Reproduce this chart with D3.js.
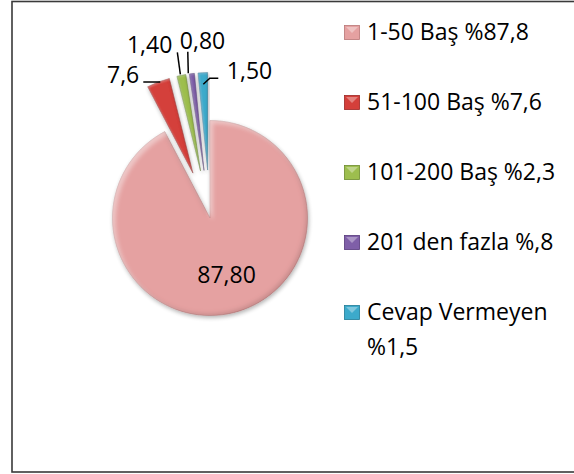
<!DOCTYPE html>
<html>
<head>
<meta charset="utf-8">
<script src="https://cdn.jsdelivr.net/npm/d3@7"></script>
<style>
  html, body { margin: 0; padding: 0; background: #fff; }
  svg { display: block; }
  text { font-family: "Open Sans", "Noto Sans", sans-serif; fill: #000; }
</style>
</head>
<body>
<svg id="chart" width="574" height="474"></svg>
<script>
// ---- data ----
const categories = ["1-50 Baş %87,8", "51-100 Baş %7,6", "101-200 Baş %2,3", "201 den fazla %,8", "Cevap Vermeyen %1,5"];
const values = [87.8, 3.6, 1.4, 0.8, 1.5];          // slice sizes as drawn
const dataLabels = ["87,80", "7,6", "1,40", "0,80", "1,50"];
const colors = ["#E5A1A1", "#D43F3A", "#9DBE4E", "#7F5FA8", "#3CAACB"];
const darkColors = ["#B97676", "#9C2623", "#6C8A2C", "#56397A", "#1F7A96"];

// ---- layout ----
const svg = d3.select("#chart");
const cx = 210, cy = 218, R = 97.5, explode = 48;
const fontSize = 23;

// frame
svg.append("rect").attr("x", 12).attr("y", 1.5).attr("width", 600).attr("height", 470.5)
  .attr("fill", "#fff").attr("stroke", "#3a3a3a").attr("stroke-width", 1.6);

const defs = svg.append("defs");
function makeBevel(id, off, blur, darkOp, lightOp) {
  const f = defs.append("filter").attr("id", id).attr("x", "-20%").attr("y", "-20%").attr("width", "140%").attr("height", "140%");
  f.append("feOffset").attr("in", "SourceAlpha").attr("dx", -off).attr("dy", -off).attr("result", "o1");
  f.append("feGaussianBlur").attr("in", "o1").attr("stdDeviation", blur).attr("result", "b1");
  f.append("feComposite").attr("in", "SourceAlpha").attr("in2", "b1").attr("operator", "out").attr("result", "rim1");
  f.append("feFlood").attr("flood-color", "#000").attr("flood-opacity", darkOp).attr("result", "dark");
  f.append("feComposite").attr("in", "dark").attr("in2", "rim1").attr("operator", "in").attr("result", "darkRim");
  f.append("feOffset").attr("in", "SourceAlpha").attr("dx", off).attr("dy", off).attr("result", "o2");
  f.append("feGaussianBlur").attr("in", "o2").attr("stdDeviation", blur).attr("result", "b2");
  f.append("feComposite").attr("in", "SourceAlpha").attr("in2", "b2").attr("operator", "out").attr("result", "rim2");
  f.append("feFlood").attr("flood-color", "#fff").attr("flood-opacity", lightOp).attr("result", "light");
  f.append("feComposite").attr("in", "light").attr("in2", "rim2").attr("operator", "in").attr("result", "lightRim");
  f.append("feGaussianBlur").attr("in", "SourceAlpha").attr("stdDeviation", 2).attr("result", "sb");
  f.append("feOffset").attr("in", "sb").attr("dx", 1).attr("dy", 2).attr("result", "so");
  f.append("feComponentTransfer").attr("in", "so").attr("result", "shadow")
    .append("feFuncA").attr("type", "linear").attr("slope", 0.3);
  const m = f.append("feMerge");
  m.append("feMergeNode").attr("in", "shadow");
  m.append("feMergeNode").attr("in", "SourceGraphic");
  m.append("feMergeNode").attr("in", "darkRim");
  m.append("feMergeNode").attr("in", "lightRim");
}
makeBevel("bevelBig", 2.5, 2, 0.28, 0.35);
makeBevel("bevelSmall", 1, 1, 0.25, 0.15);

const pie = d3.pie().sort(null).value(d => d).startAngle(0).endAngle(2 * Math.PI);
const arcs = pie(values);
const arc = d3.arc().innerRadius(0).outerRadius(R);

function offsetOf(d, i) {
  if (i === 0) return [0, 0];
  const a = (d.startAngle + d.endAngle) / 2;
  return [Math.sin(a) * explode, -Math.cos(a) * explode];
}
function outerMid(d, i) {
  const a = (d.startAngle + d.endAngle) / 2;
  const o = offsetOf(d, i);
  return [cx + o[0] + Math.sin(a) * R, cy + o[1] - Math.cos(a) * R];
}

const g = svg.append("g");
g.selectAll("path.slice").data(arcs).join("path")
  .attr("class", "slice")
  .attr("transform", (d, i) => { const o = offsetOf(d, i); return `translate(${cx + o[0]},${cy + o[1]})`; })
  .attr("d", arc)
  .attr("fill", (d, i) => colors[i])
  .attr("stroke", (d, i) => darkColors[i])
  .attr("stroke-width", 0.5)
  .attr("filter", (d, i) => i === 0 ? "url(#bevelBig)" : "url(#bevelSmall)");

// main slice label
{
  const d = arcs[0];
  const a = (d.startAngle + d.endAngle) / 2;
  const k = R * 0.54;
  svg.append("text")
    .attr("x", cx + Math.sin(a) * k + 4)
    .attr("y", cy - Math.cos(a) * k + 5)
    .attr("text-anchor", "middle")
    .attr("dominant-baseline", "central")
    .attr("font-size", fontSize)
    .text(dataLabels[0]);
}

// outside labels with leader lines (offsets relative to slice outer midpoint)
const outside = [
  null,
  { text: [-19, 1], anchor: "end", line: [[-15, 0], [2, 0]] },
  { text: [-9, -22], anchor: "end", line: [[-4, -23], [-1, -1]] },
  { text: [-12, -25], anchor: "start", line: [[-4, -22], [-3.5, -0.5]] },
  { text: [24, 6], anchor: "start", line: [[15.5, 5.6], [7, 5.6], [0.5, 11.6]] }
];
arcs.forEach((d, i) => {
  if (i === 0) return;
  const p = outerMid(d, i);
  const cfg = outside[i];
  svg.append("path")
    .attr("d", d3.line()(cfg.line.map(q => [p[0] + q[0], p[1] + q[1]])))
    .attr("fill", "none").attr("stroke", "#000").attr("stroke-width", 1.5);
  svg.append("text")
    .attr("x", p[0] + cfg.text[0]).attr("y", p[1] + cfg.text[1])
    .attr("text-anchor", cfg.anchor)
    .attr("font-size", fontSize)
    .text(dataLabels[i]);
});

// legend
const legX = 344, legY0 = 25, legStep = 70;
const leg = svg.append("g");
categories.forEach((c, i) => {
  const y = legY0 + i * legStep;
  leg.append("rect").attr("x", legX + 0.5).attr("y", y + 0.5).attr("width", 15).attr("height", 14)
    .attr("fill", colors[i]).attr("stroke", darkColors[i]).attr("stroke-width", 0.8);
  leg.append("path")
    .attr("d", `M${legX + 2},${y + 2} L${legX + 14},${y + 2} L${legX + 8},${y + 8} Z`)
    .attr("fill", "#fff").attr("opacity", 0.35);
  const t = leg.append("text").attr("x", legX + 23).attr("y", y + 15).attr("font-size", fontSize);
  if (i === 4) {
    t.append("tspan").attr("x", legX + 23).text("Cevap Vermeyen");
    t.append("tspan").attr("x", legX + 23).attr("dy", 35).text("%1,5");
  } else {
    t.text(c);
  }
});
</script>
</body>
</html>
